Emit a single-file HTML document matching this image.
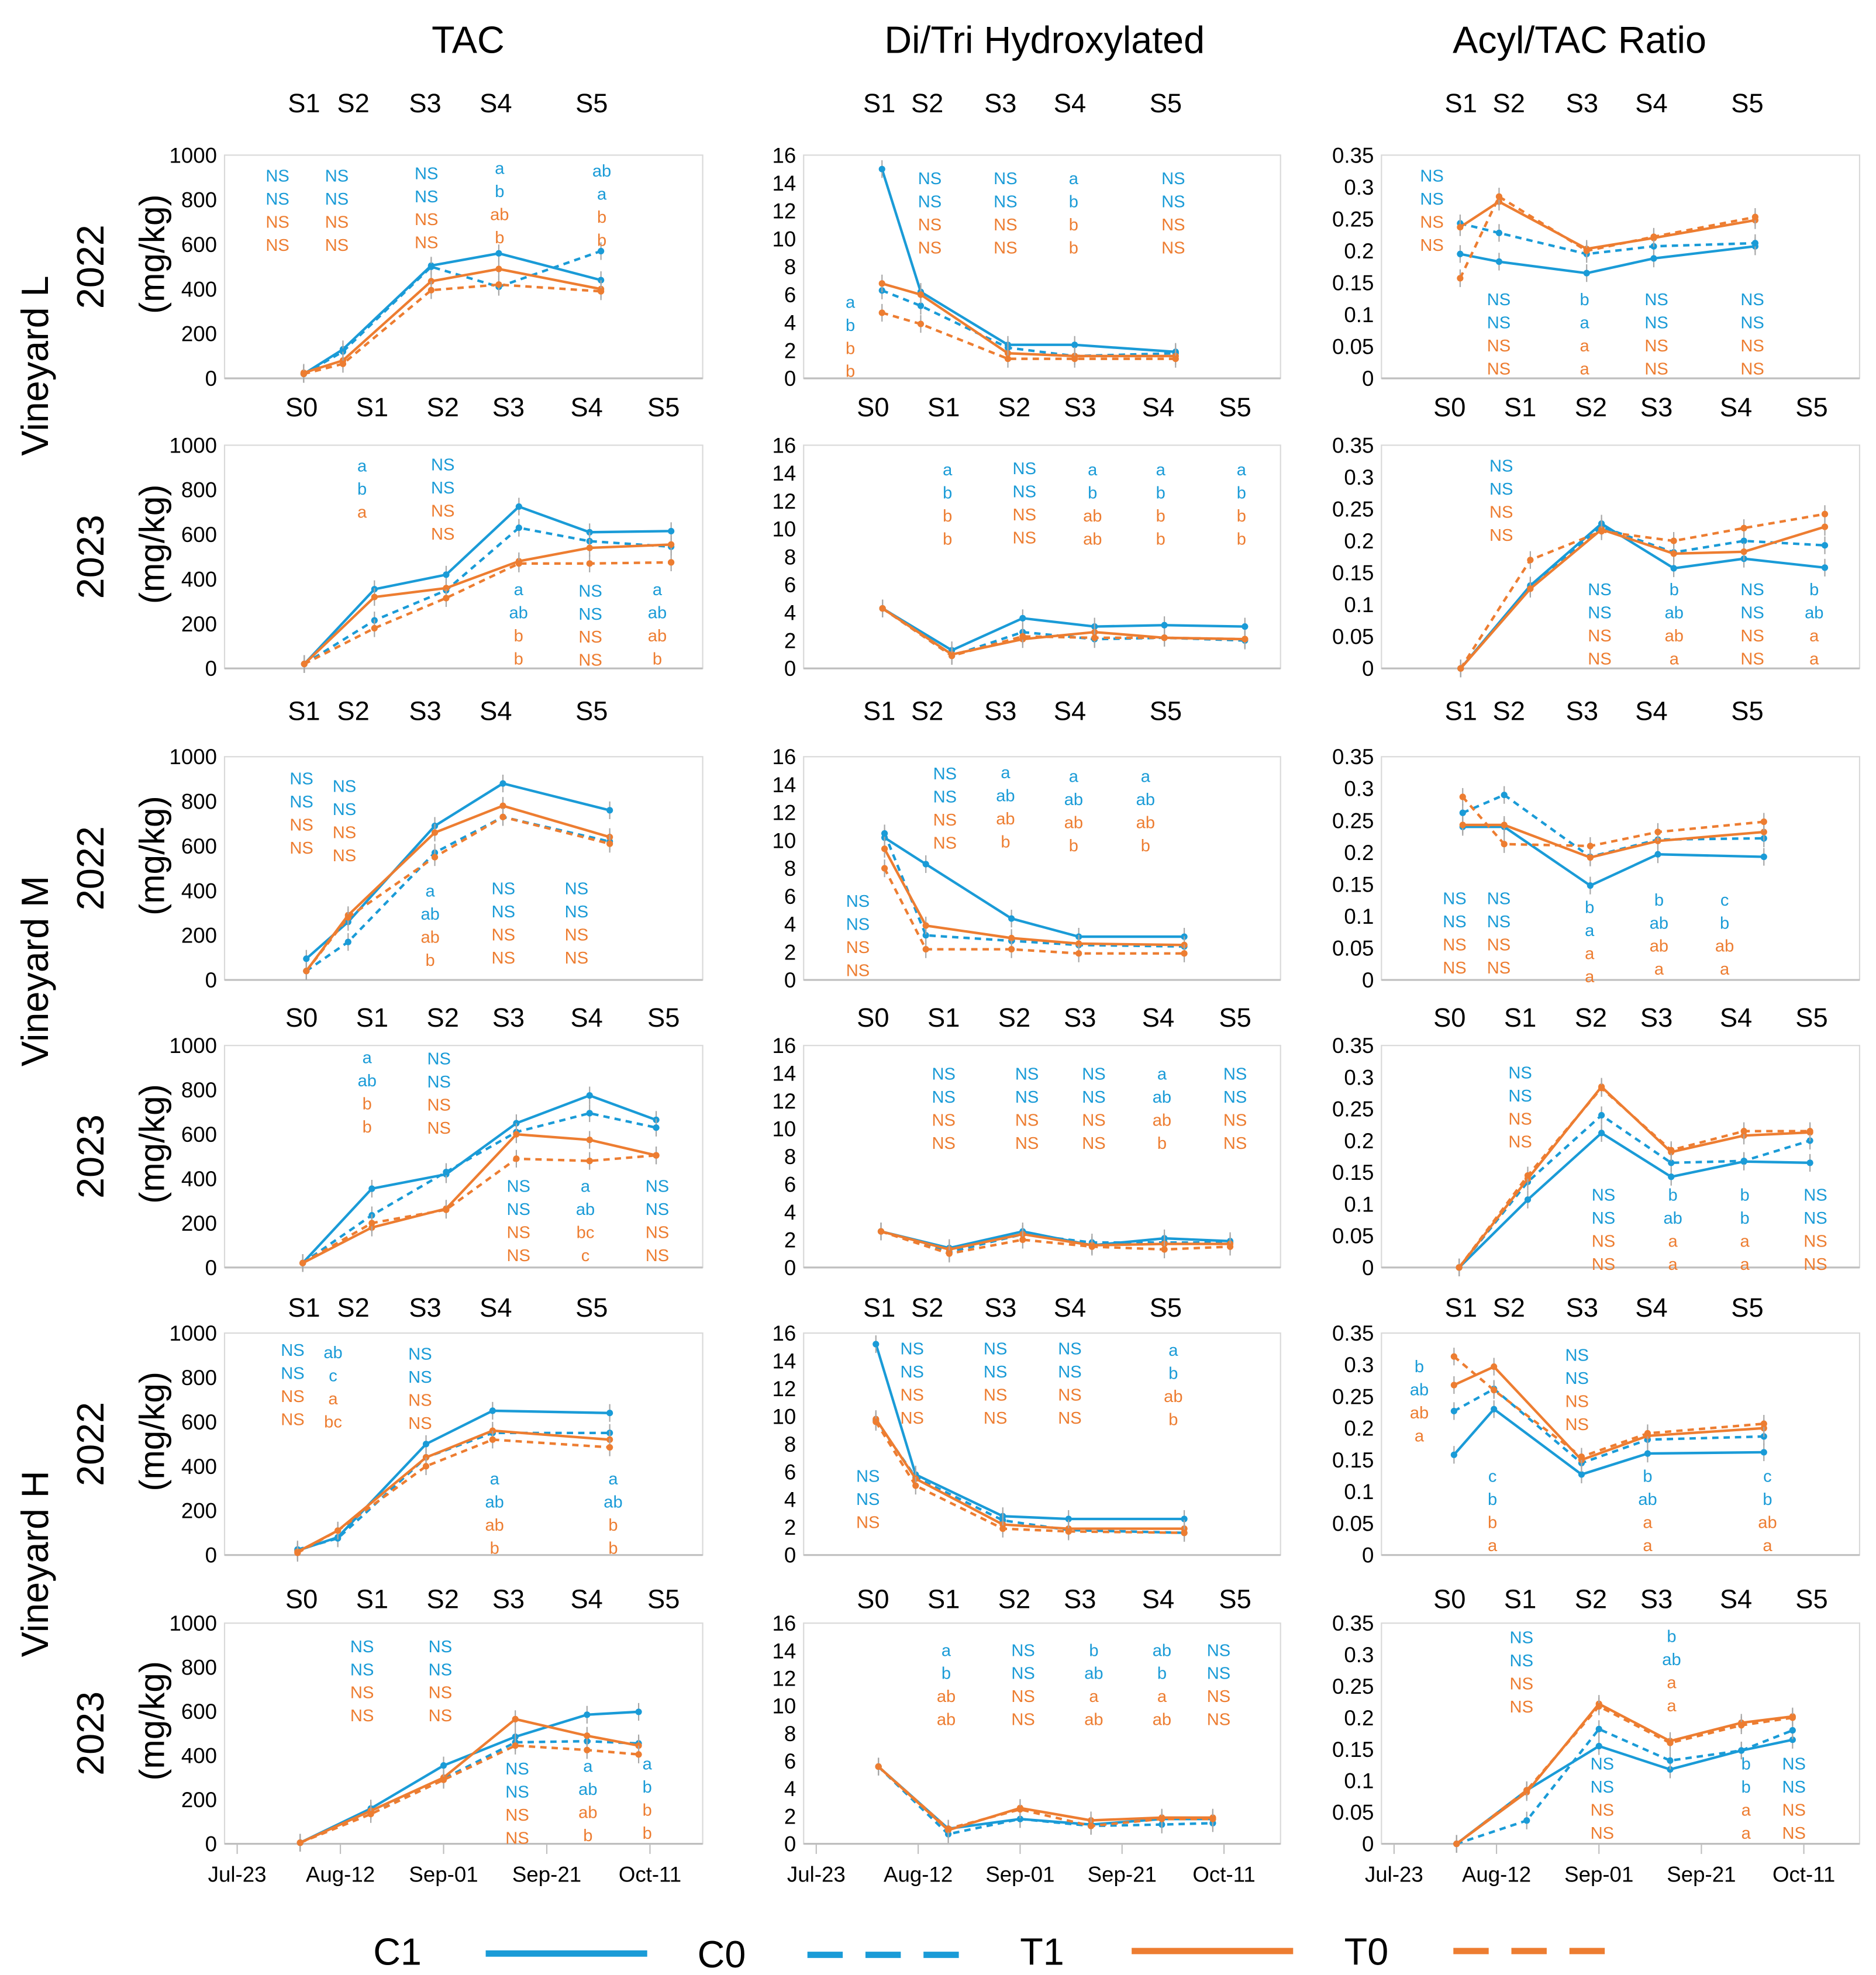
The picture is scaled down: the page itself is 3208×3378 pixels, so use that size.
<!DOCTYPE html>
<html><head><meta charset="utf-8"><style>
html,body{margin:0;padding:0;background:#fff}
svg{display:block}
text{font-family:"Liberation Sans Narrow","Liberation Sans",sans-serif}
</style></head><body>
<svg id="chart" xmlns="http://www.w3.org/2000/svg" width="3208" height="3378" viewBox="0 0 1487 1566" preserveAspectRatio="none">
<g id="static">
<text x="371" y="42" font-size="30" text-anchor="middle" style="font-family:'Liberation Sans',sans-serif">TAC</text>
<text x="828" y="42" font-size="30" text-anchor="middle" style="font-family:'Liberation Sans',sans-serif">Di/Tri Hydroxylated</text>
<text x="1252" y="42" font-size="30" text-anchor="middle" style="font-family:'Liberation Sans',sans-serif">Acyl/TAC Ratio</text>
<text transform="translate(38,290) rotate(-90)" font-size="30" text-anchor="middle" style="font-family:'Liberation Sans',sans-serif">Vineyard L</text>
<text transform="translate(38,770) rotate(-90)" font-size="30" text-anchor="middle" style="font-family:'Liberation Sans',sans-serif">Vineyard M</text>
<text transform="translate(38,1240) rotate(-90)" font-size="30" text-anchor="middle" style="font-family:'Liberation Sans',sans-serif">Vineyard H</text>
<g font-size="30">
<text x="315" y="1558" text-anchor="middle">C1</text>
<line x1="385" y1="1549" x2="513" y2="1549" stroke="#1a9bd7" stroke-width="5"/>
<text x="572" y="1560" text-anchor="middle">C0</text>
<line x1="640" y1="1550" x2="768" y2="1550" stroke="#1a9bd7" stroke-width="5" stroke-dasharray="28,18"/>
<text x="826" y="1558" text-anchor="middle">T1</text>
<line x1="897" y1="1547" x2="1025" y2="1547" stroke="#ed7d31" stroke-width="5"/>
<text x="1083" y="1558" text-anchor="middle">T0</text>
<line x1="1152" y1="1547" x2="1280" y2="1547" stroke="#ed7d31" stroke-width="5" stroke-dasharray="28,18"/>
</g>
</g>
</svg>
<script>
// ---- data ----
const rowNames = ["L 2022","L 2023","M 2022","M 2023","H 2022","H 2023"];
const years = ["2022","2023","2022","2023","2022","2023"];
// sampling day (days after Jul-23) per row
const days_L22 = [12.9,20.5,37.6,50.7,70.5];
const days_L23 = [13,26.6,40.5,54.6,68.3,84.1];
const days_M22 = [13.4,21.5,38.3,51.5,72.2];
const days_M23 = [12.7,26.1,40.5,54.1,68.3,81.2];
const days_H22 = [11.7,19.5,36.6,49.5,72.2];
const days_H23 = [12.2,25.9,40,53.9,67.8,77.8];
// series order: C1, C0, T1, T0
const tac_L22 = [[20,130,505,560,440],[20,120,500,410,570],[25,80,435,490,400],[20,65,395,420,390]];
const tac_L23 = [[20,355,420,725,610,615],[20,215,350,630,570,545],[20,320,360,480,540,555],[20,180,315,470,470,475]];
const tac_M22 = [[95,260,690,880,760],[40,170,570,730,620],[40,290,660,780,640],[40,280,550,730,610]];
const tac_M23 = [[20,355,420,650,775,665],[20,235,430,610,695,630],[20,180,265,600,575,505],[20,200,260,490,480,505]];
const tac_H22 = [[20,80,500,650,640],[25,75,440,550,550],[15,110,440,560,520],[10,110,400,520,485]];
const tac_H23 = [[5,160,355,485,585,598],[5,150,295,460,465,455],[5,150,300,565,490,445],[5,135,290,445,425,405]];
const dt_L22 = [[15,6.2,2.4,2.4,1.9],[6.3,5.2,2.2,1.6,1.8],[6.8,6.0,1.8,1.6,1.6],[4.7,3.9,1.4,1.4,1.4]];
const dt_L23 = [[4.3,1.3,3.6,3.0,3.1,3.0],[4.3,0.9,2.6,2.1,2.2,2.0],[4.3,1.0,2.1,2.6,2.2,2.1],[4.3,0.9,2.3,2.2,2.2,2.1]];
const dt_M22 = [[10.2,8.3,4.4,3.1,3.1],[10.5,3.2,2.8,2.5,2.4],[9.4,3.9,3.0,2.6,2.5],[8.0,2.2,2.2,1.9,1.9]];
const dt_M23 = [[2.6,1.4,2.6,1.6,2.1,1.9],[2.6,1.1,2.4,1.8,1.8,1.8],[2.6,1.3,2.4,1.6,1.7,1.7],[2.6,1.0,2.0,1.5,1.3,1.5]];
const dt_H22 = [[15.2,5.8,2.8,2.6,2.6],[9.7,5.6,2.5,1.8,1.6],[9.8,5.5,2.2,1.9,1.9],[9.6,5.0,1.9,1.7,1.6]];
const dt_H23 = [[5.6,1.1,1.8,1.4,1.8,1.8],[5.6,0.7,1.8,1.3,1.4,1.5],[5.6,1.0,2.6,1.7,1.9,1.9],[5.6,1.1,2.5,1.3,1.8,1.8]];
const ac_L22 = [[0.195,0.183,0.165,0.188,0.207],[0.243,0.228,0.195,0.207,0.212],[0.237,0.277,0.203,0.22,0.248],[0.157,0.285,0.2,0.222,0.253]];
const ac_L23 = [[0,0.13,0.227,0.157,0.172,0.158],[0,0.128,0.222,0.182,0.2,0.193],[0,0.125,0.218,0.18,0.183,0.222],[0,0.17,0.215,0.2,0.22,0.242]];
const ac_M22 = [[0.24,0.24,0.148,0.197,0.193],[0.262,0.29,0.193,0.22,0.222],[0.243,0.243,0.192,0.218,0.232],[0.287,0.213,0.21,0.232,0.248]];
const ac_M23 = [[0,0.107,0.212,0.143,0.167,0.165],[0,0.135,0.24,0.165,0.168,0.2],[0,0.14,0.285,0.182,0.208,0.213],[0,0.145,0.283,0.185,0.215,0.215]];
const ac_H22 = [[0.158,0.23,0.127,0.16,0.162],[0.227,0.262,0.145,0.182,0.187],[0.268,0.297,0.15,0.188,0.2],[0.313,0.26,0.155,0.192,0.207]];
const ac_H23 = [[0,0.085,0.155,0.118,0.148,0.165],[0,0.037,0.182,0.132,0.148,0.18],[0,0.082,0.222,0.163,0.192,0.202],[0,0.085,0.218,0.16,0.188,0.2]];
const tacTicks = ["0","200","400","600","800","1000"];
const dtTicks = ["0","2","4","6","8","10","12","14","16"];
const acTicks = ["0","0.05","0.1","0.15","0.2","0.25","0.3","0.35"];
const dateLabels = ["Jul-23","Aug-12","Sep-01","Sep-21","Oct-11"];
const seriesNames = ["C1","C0","T1","T0"];

// ---- layout ----
const NS='http://www.w3.org/2000/svg';
const svg=document.getElementById('chart');
const colX=[[178,557],[637,1015],[1095,1474]];
const colStart=[188,647,1105];
const colPxPerDay=[4.09,4.04,4.06];
const rowY=[[123,300],[353,530],[600,777],[829,1005],[1057,1233],[1287,1462]];
const BLUE='#1a9bd7', ORANGE='#ed7d31';
const sColor=[BLUE,BLUE,ORANGE,ORANGE];
const sDash=['', '5,4', '', '5,4'];
function mk(tag,attrs,parent){const e=document.createElementNS(NS,tag);for(const k in attrs)e.setAttribute(k,attrs[k]);(parent||svg).appendChild(e);return e;}
function xScale(col,d){return colStart[col]+d*colPxPerDay[col];}
function yScale(row,v,max){const [t,b]=rowY[row];return b-(v/max)*(b-t);}

const allDays=[days_L22,days_L23,days_M22,days_M23,days_H22,days_H23];
const cols=[
 {data:[tac_L22,tac_L23,tac_M22,tac_M23,tac_H22,tac_H23],ticks:tacTicks,max:1000,name:'tac'},
 {data:[dt_L22,dt_L23,dt_M22,dt_M23,dt_H22,dt_H23],ticks:dtTicks,max:16,name:'ditri'},
 {data:[ac_L22,ac_L23,ac_M22,ac_M23,ac_H22,ac_H23],ticks:acTicks,max:0.35,name:'acyl'}
];

for(let c=0;c<3;c++){
 for(let r=0;r<6;r++){
  const g=mk('g',{});
  
  
  const [x0,x1]=colX[c],[y0,y1]=rowY[r];
  const box=mk('rect',{x:x0,y:y0,width:x1-x0,height:y1-y0,fill:'none',stroke:'#d9d9d9','stroke-width':1},g);
  
  
  const ax=mk('line',{x1:x0,y1:y1,x2:x1,y2:y1,stroke:'#bfbfbf','stroke-width':1.5},g);
  
  
  const tk=cols[c].ticks;
  for(let i=0;i<tk.length;i++){
   const v=cols[c].max*i/(tk.length-1);
   const t=mk('text',{x:x0-6,y:yScale(r,v,cols[c].max)+6,'font-size':17,'text-anchor':'end',fill:'#000'},g);
   t.textContent=tk[i];
   
   
  }
  const series=cols[c].data[r], days=allDays[r];
  for(let s=0;s<4;s++){
   const pts=series[s].map((v,i)=>xScale(c,days[i]).toFixed(1)+','+yScale(r,v,cols[c].max).toFixed(1)).join(' ');
   const pl=mk('polyline',{points:pts,fill:'none',stroke:sColor[s],'stroke-width':2,'stroke-dasharray':sDash[s]},g);
   
   
   series[s].forEach((v,i)=>{
    const cx=xScale(c,days[i]),cy=yScale(r,v,cols[c].max);
    const e=mk('line',{x1:cx,y1:cy-7,x2:cx,y2:cy+7,stroke:'#a6a6a6','stroke-width':1},g);
    
    
    const p=mk('circle',{cx:cx,cy:cy,r:2.6,fill:sColor[s]},g);
    
    
   });
  }
 }
 for(let i=0;i<dateLabels.length;i++){
  const x=xScale(c,i*20);
  const tl=mk('line',{x1:x,y1:1462,x2:x,y2:1470,stroke:'#bfbfbf'});
  
  
  const t=mk('text',{x:x,y:1492,'font-size':17,'text-anchor':'middle'});
  t.textContent=dateLabels[i];
  
  
 }
}

const topS=[[241,280,337,393,469],[697,735,793,848,924],[1158,1196,1254,1309,1385]];
const botS=[[239,295,351,403,465,526],[692,748,804,856,918,979],[1149,1205,1261,1313,1376,1436]];
function stageRow(y,arr,start){for(let c=0;c<3;c++)arr[c].forEach((x,i)=>{const t=mk('text',{x:x,y:y,'font-size':21,'text-anchor':'middle'});t.textContent='S'+(i+start);});}
[89,571,1044].forEach(y=>stageRow(y,topS,1));
[330,814,1275].forEach(y=>stageRow(y,botS,0));

for(let r=0;r<6;r++){
 const cy=(rowY[r][0]+rowY[r][1])/2;
 const y=mk('text',{transform:`translate(82,${cy}) rotate(-90)`,'font-size':30,'text-anchor':'middle',style:"font-family:'Liberation Sans',sans-serif"});
 y.textContent=years[r];
 
 
 const u=mk('text',{transform:`translate(130,${cy-10}) rotate(-90)`,'font-size':28,'text-anchor':'middle',style:"font-family:'Liberation Sans',sans-serif"});
 u.textContent='(mg/kg)';
 
 
}

const ann=[
[220,139,'NS NS NS NS'],[267,139,'NS NS NS NS'],[338,137,'NS NS NS NS'],[396,133,'a b ab b'],[477,135,'ab a b b'],
[674,239,'a b b b'],[737,141,'NS NS NS NS'],[797,141,'NS NS NS NS'],[851,141,'a b b b'],[930,141,'NS NS NS NS'],
[1135,139,'NS NS NS NS'],[1188,237,'NS NS NS NS'],[1256,237,'b a a a'],[1313,237,'NS NS NS NS'],[1389,237,'NS NS NS NS'],
[287,369,'a b a'],[351,368,'NS NS NS NS'],[411,467,'a ab b b'],[468,468,'NS NS NS NS'],[521,467,'a ab ab b'],
[751,372,'a b b b'],[812,371,'NS NS NS NS'],[866,372,'a b ab ab'],[920,372,'a b b b'],[984,372,'a b b b'],
[1190,369,'NS NS NS NS'],[1268,467,'NS NS NS NS'],[1327,467,'b ab ab a'],[1389,467,'NS NS NS NS'],[1438,467,'b ab a a'],
[239,617,'NS NS NS NS'],[273,623,'NS NS NS NS'],[341,706,'a ab ab b'],[399,704,'NS NS NS NS'],[457,704,'NS NS NS NS'],
[680,714,'NS NS NS NS'],[749,613,'NS NS NS NS'],[797,612,'a ab ab b'],[851,615,'a ab ab b'],[908,615,'a ab ab b'],
[1153,712,'NS NS NS NS'],[1188,712,'NS NS NS NS'],[1260,719,'b a a a'],[1315,713,'b ab ab a'],[1367,713,'c b ab a'],
[291,838,'a ab b b'],[348,839,'NS NS NS NS'],[411,940,'NS NS NS NS'],[464,940,'a ab bc c'],[521,940,'NS NS NS NS'],
[748,851,'NS NS NS NS'],[814,851,'NS NS NS NS'],[867,851,'NS NS NS NS'],[921,851,'a ab ab b'],[979,851,'NS NS NS NS'],
[1205,850,'NS NS NS NS'],[1271,947,'NS NS NS NS'],[1326,947,'b ab a a'],[1383,947,'b b a a'],[1439,947,'NS NS NS NS'],
[232,1070,'NS NS NS NS'],[264,1072,'ab c a bc'],[333,1073,'NS NS NS NS'],[392,1172,'a ab ab b'],[486,1172,'a ab b b'],
[688,1170,'NS NS NS'],[723,1069,'NS NS NS NS'],[789,1069,'NS NS NS NS'],[848,1069,'NS NS NS NS'],[930,1070,'a b ab b'],
[1125,1083,'b ab ab a'],[1250,1074,'NS NS NS NS'],[1183,1170,'c b b a'],[1306,1170,'b ab a a'],[1401,1170,'c b ab a'],
[287,1305,'NS NS NS NS'],[349,1305,'NS NS NS NS'],[410,1402,'NS NS NS NS'],[466,1400,'a ab ab b'],[513,1398,'a b b b'],
[750,1308,'a b ab ab'],[811,1308,'NS NS NS NS'],[867,1308,'b ab a ab'],[921,1308,'ab b a ab'],[966,1308,'NS NS NS NS'],
[1206,1298,'NS NS NS NS'],[1325,1297,'b ab a a'],[1270,1398,'NS NS NS NS'],[1384,1398,'b b a a'],[1422,1398,'NS NS NS NS']
];
ann.forEach(a=>{
 const parts=a[2].split(' ');
 parts.forEach((p,i)=>{
  const col=(i<2)?BLUE:ORANGE;
  const t=mk('text',{x:a[0],y:a[1]+5+i*18.3,'font-size':13.5,'text-anchor':'middle',fill:col});
  t.textContent=p;
  
  
 });
});
</script>
</body></html>
